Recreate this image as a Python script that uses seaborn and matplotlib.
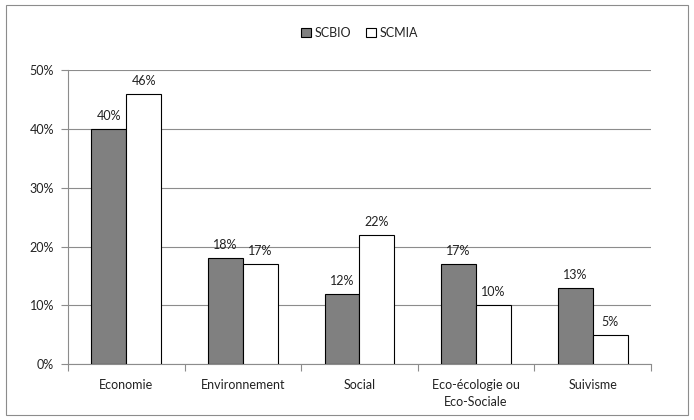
import matplotlib
matplotlib.use("Agg")
import matplotlib.pyplot as plt
import seaborn as sns
import pandas as pd
from matplotlib.patches import Rectangle
from matplotlib.ticker import FixedLocator

categories = ["Economie", "Environnement", "Social", "Eco-écologie ou\nEco-Sociale", "Suivisme"]
series_names = ["SCBIO", "SCMIA"]
scbio = [40, 18, 12, 17, 13]
scmia = [46, 17, 22, 10, 5]
y_ticks = [0, 10, 20, 30, 40, 50]

df = pd.DataFrame({
    "cat": categories * 2,
    "serie": [series_names[0]] * len(categories) + [series_names[1]] * len(categories),
    "val": scbio + scmia,
})

sns.set_theme(style="white")
plt.rcParams["font.family"] = ["Lato", "DejaVu Sans"]

fig = plt.figure(figsize=(6.94, 4.20), dpi=100)
ax = fig.add_axes([0.098, 0.133, 0.840, 0.700])

sns.barplot(data=df, x="cat", y="val", hue="serie", order=categories,
            hue_order=series_names, palette=["#808080", "#ffffff"],
            width=0.6, edgecolor="black", linewidth=0.8, ax=ax, zorder=3)

for cont in ax.containers:
    ax.bar_label(cont, labels=[f"{v:.0f}%" for v in cont.datavalues],
                 padding=5, fontsize=9, color="#222222")

ax.set_ylim(0, 50)
ax.set_xlim(-0.5, len(categories) - 0.5)
ax.set_yticks(y_ticks)
ax.set_yticklabels([f"{t}%" for t in y_ticks], fontsize=9, color="#222222")
ax.yaxis.grid(True, color="#8c8c8c", linewidth=0.8, zorder=0)
ax.set_axisbelow(True)
ax.set_xlabel("")
ax.set_ylabel("")
ax.tick_params(axis="x", labelsize=9, colors="#222222", length=0, pad=11)
for lbl in ax.get_xticklabels():
    lbl.set_linespacing(1.5)
ax.tick_params(axis="y", left=True, length=5, width=0.8, color="#8c8c8c", pad=5)

for side in ["top", "right"]:
    ax.spines[side].set_visible(False)
for side in ["left", "bottom"]:
    ax.spines[side].set_color("#8c8c8c")
    ax.spines[side].set_linewidth(0.8)

# category separators below the x axis
ax.xaxis.set_minor_locator(FixedLocator([i - 0.5 for i in range(len(categories) + 1)]))
ax.tick_params(axis="x", which="minor", bottom=True, length=5, width=0.8, color="#8c8c8c")

leg = ax.legend(loc="upper center", bbox_to_anchor=(0.5, 1.185), ncol=2, frameon=False,
                fontsize=9, handlelength=0.8, handleheight=0.8, handletextpad=0.3,
                columnspacing=1.2)
for t in leg.get_texts():
    t.set_color("#222222")

fig.patches.append(Rectangle((0.008, 0.012), 0.984, 0.975, transform=fig.transFigure,
                             fill=False, edgecolor="#8c8c8c", linewidth=0.8))

fig.savefig("out.png", dpi=100)
